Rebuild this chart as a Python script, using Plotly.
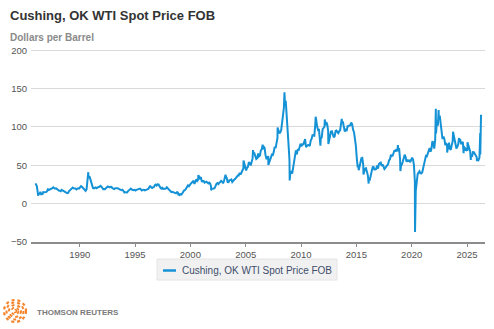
import pandas as pd
import plotly.graph_objects as go

# ---- data: WTI Cushing spot, monthly averages (mid-month), 1986-01 onward ----
wti_monthly = [
    # 1986
    22.9, 15.5, 12.6, 12.8, 15.4, 13.4, 11.6, 15.1, 14.9, 14.9, 15.2, 16.1,
    # 1987
    18.7, 17.8, 18.3, 18.7, 19.4, 20.1, 21.3, 20.3, 19.5, 19.9, 18.9, 17.3,
    # 1988
    17.1, 16.8, 16.2, 17.9, 17.4, 16.5, 15.5, 15.5, 14.5, 13.8, 14.1, 16.4,
    # 1989
    18.0, 17.9, 19.5, 21.1, 20.1, 20.1, 19.8, 18.6, 19.6, 20.1, 19.9, 21.1,
    # 1990
    22.9, 22.1, 20.4, 18.4, 18.2, 16.7, 18.5, 27.3, 33.5, 36.0, 32.3, 27.3,
    # 1991
    25.2, 20.5, 19.9, 20.8, 21.2, 20.2, 21.4, 21.7, 21.9, 23.2, 22.5, 19.5,
    # 1992
    18.8, 19.0, 18.9, 20.2, 21.0, 22.4, 21.8, 21.3, 21.9, 21.7, 20.3, 19.4,
    # 1993
    19.0, 20.1, 20.3, 20.3, 20.0, 19.1, 17.9, 18.0, 17.5, 18.2, 16.6, 14.5,
    # 1994
    15.0, 14.8, 14.7, 16.4, 17.9, 19.1, 19.7, 18.4, 17.5, 17.7, 18.1, 17.2,
    # 1995
    18.0, 18.6, 18.5, 19.9, 19.7, 18.5, 17.3, 18.0, 18.2, 17.4, 18.0, 19.0,
    # 1996
    18.9, 19.1, 21.3, 23.5, 21.2, 20.4, 21.3, 21.9, 24.0, 24.9, 23.7, 25.2,
    # 1997
    25.1, 22.2, 21.0, 19.7, 20.8, 19.3, 19.7, 20.0, 19.8, 21.3, 20.2, 18.3,
    # 1998
    16.7, 16.1, 15.1, 15.4, 14.9, 13.7, 14.2, 13.5, 15.0, 14.5, 13.0, 11.4,
    # 1999
    12.5, 12.0, 14.7, 17.3, 17.7, 17.9, 20.1, 21.3, 23.8, 22.7, 25.0, 26.1,
    # 2000
    27.3, 29.4, 29.8, 25.7, 28.8, 31.8, 29.7, 31.3, 33.9, 33.1, 34.4, 28.4,
    # 2001
    29.6, 29.6, 27.3, 27.5, 28.6, 27.6, 26.4, 27.4, 26.2, 22.2, 19.6, 19.4,
    # 2002
    19.7, 20.7, 24.5, 26.2, 27.0, 25.5, 27.0, 28.4, 29.7, 28.8, 26.4, 29.5,
    # 2003
    33.0, 35.8, 33.5, 28.2, 28.1, 30.7, 30.8, 31.6, 28.3, 30.3, 31.1, 32.1,
    # 2004
    34.3, 34.7, 36.7, 36.8, 40.3, 38.0, 40.8, 44.9, 45.9, 53.3, 48.5, 43.2,
    # 2005
    46.8, 48.2, 54.2, 53.0, 49.8, 56.4, 59.0, 65.0, 65.6, 62.3, 58.3, 59.4,
    # 2006
    65.5, 61.6, 62.7, 69.4, 70.8, 71.0, 74.4, 73.0, 63.8, 58.9, 59.1, 62.0,
    # 2007
    54.5, 59.3, 60.4, 64.0, 63.5, 67.5, 74.1, 72.4, 79.9, 85.8, 94.8, 91.7,
    # 2008
    93.0, 95.4, 105.5, 112.6, 125.4, 133.9, 133.4, 116.7, 104.1, 76.6, 57.3, 41.1,
    # 2009
    41.7, 39.1, 47.9, 49.7, 59.0, 69.6, 64.2, 71.1, 69.4, 75.7, 78.0, 74.5,
    # 2010
    78.3, 76.4, 81.2, 84.3, 73.7, 75.3, 76.3, 76.6, 75.2, 81.9, 84.3, 89.2,
    # 2011
    89.2, 88.6, 102.9, 109.5, 100.9, 96.3, 97.3, 86.3, 85.5, 86.3, 97.2, 98.6,
    # 2012
    100.3, 102.2, 106.2, 103.3, 94.7, 82.3, 87.9, 94.1, 94.5, 89.5, 86.5, 87.9,
    # 2013
    94.8, 95.3, 92.9, 92.0, 94.5, 95.8, 104.7, 106.6, 106.3, 100.5, 93.9, 97.6,
    # 2014
    94.6, 100.8, 100.8, 102.1, 102.2, 105.8, 103.6, 96.5, 93.2, 84.4, 75.8, 59.3,
    # 2015
    47.2, 50.6, 47.8, 54.5, 59.3, 59.8, 50.9, 42.9, 45.5, 46.2, 42.4, 37.2,
    # 2016
    31.7, 30.3, 37.6, 40.8, 46.7, 48.8, 44.7, 44.7, 45.2, 49.8, 45.7, 52.0,
    # 2017
    52.5, 53.5, 49.3, 51.1, 48.5, 45.2, 46.6, 48.0, 49.8, 51.6, 56.6, 57.9,
    # 2018
    63.7, 62.2, 62.7, 66.3, 70.0, 67.9, 71.0, 68.1, 70.2, 70.8, 57.0, 49.5,
    # 2019
    51.4, 55.0, 58.2, 63.9, 60.8, 54.7, 57.4, 54.8, 57.0, 54.0, 57.0, 59.9,
    # 2020
    57.5, 50.5, 29.2, 16.6, 28.6, 38.3, 40.7, 42.3, 39.6, 39.4, 40.9, 47.0,
    # 2021
    52.0, 59.0, 62.3, 61.7, 65.2, 71.4, 72.5, 67.7, 71.7, 81.5, 79.2, 71.7,
    # 2022
    83.2, 91.6, 108.5, 101.8, 109.6, 114.8, 101.6, 93.7, 84.3, 87.6, 84.4, 76.4,
    # 2023
    78.1, 76.8, 73.3, 79.5, 71.6, 70.3, 76.1, 81.4, 89.4, 85.6, 77.7, 71.9,
    # 2024
    74.2, 77.3, 80.6, 84.4, 78.6, 78.7, 80.5, 75.4, 69.4, 71.6, 69.7, 70.1,
    # 2025
    75.1, 71.2, 68.2, 63.5, 61.0, 67.3, 67.2, 64.9, 63.5, 60.9, 58.5, 57.0,
    # 2026
    60.0, 64.0,
]
monthly_start = "1986-01-15"

# daily extremes
extreme_dates = [
    "1986-01-02", "1986-03-31", "1986-07-15", "1990-10-11", "1998-12-10",
    "2000-09-20", "2001-11-15", "2003-03-07", "2004-10-22", "2005-08-30",
    "2006-07-14", "2007-01-18", "2007-11-20", "2008-07-03", "2008-12-22",
    "2011-04-29", "2011-10-03", "2012-02-24", "2012-06-21", "2013-09-06",
    "2015-03-17", "2015-08-24", "2016-02-11", "2018-10-03", "2018-12-24",
    "2020-04-20", "2022-03-08", "2022-06-08", "2023-03-17", "2023-09-27",
    "2024-04-12", "2024-09-10", "2025-01-15", "2025-05-05", "2025-11-25",
    "2026-03-12", "2026-04-08",
]
extreme_prices = [
    26.5, 10.4, 11.2, 41.0, 10.8,
    37.2, 17.5, 37.8, 56.4, 69.8,
    77.0, 50.5, 99.2, 145.3, 30.3,
    113.4, 75.7, 109.8, 77.7, 110.5,
    43.5, 38.2, 26.2, 76.4, 42.5,
    -37.0, 123.7, 122.1, 66.7, 93.7,
    85.7, 65.7, 80.0, 57.1, 55.5,
    92.0, 116.0,
]

series_name = "Cushing, OK WTI Spot Price FOB"
y_ticks = [-50, 0, 50, 100, 150, 200]

# ---- build series ----
m_dates = pd.date_range(monthly_start, periods=len(wti_monthly), freq="MS") + pd.Timedelta(days=14)
df = pd.concat([
    pd.DataFrame({"date": m_dates, "price": wti_monthly}),
    pd.DataFrame({"date": pd.to_datetime(extreme_dates), "price": extreme_prices}),
]).sort_values("date")

FONT = "Arial, 'Liberation Sans', sans-serif"
W, H = 494, 329
L, R, T, B = 31, 9, 48, 87
PW, PH = W - L - R, H - T - B


def px_x(px):
    return (px - L) / PW


def px_y(py):
    return (H - B - py) / PH


blue = "#1592d6"
fig = go.Figure()
fig.add_trace(go.Scatter(
    x=df["date"], y=df["price"], mode="lines", name=series_name,
    line=dict(color=blue, width=2), showlegend=False,
))

shapes = [
    # legend box
    dict(type="rect", xref="paper", yref="paper",
         x0=px_x(157), x1=px_x(337), y0=px_y(280), y1=px_y(259),
         fillcolor="#f1f1f1", line=dict(color="#e4e4e4", width=1), layer="below"),
    dict(type="line", xref="paper", yref="paper",
         x0=px_x(163), x1=px_x(176), y0=px_y(270.5), y1=px_y(270.5),
         line=dict(color=blue, width=2.5)),
]
# Thomson Reuters logo (dotted orange rings)
for r, w in [(11, 2.2), (8.5, 2.0), (6, 2.0), (3.5, 1.8), (1.5, 1.6)]:
    shapes.append(dict(
        type="circle", xref="paper", yref="paper",
        xsizemode="pixel", ysizemode="pixel",
        xanchor=px_x(15), yanchor=px_y(311),
        x0=-r, x1=r, y0=-r, y1=r,
        line=dict(color="#f4842a", width=w, dash="dot"),
    ))

annotations = [
    dict(text="<b>Cushing, OK WTI Spot Price FOB</b>", xref="paper", yref="paper",
         x=px_x(8), y=px_y(16), xanchor="left", yanchor="middle", showarrow=False,
         font=dict(family=FONT, size=13, color="#333333")),
    dict(text="<b>Dollars per Barrel</b>", xref="paper", yref="paper",
         x=px_x(8), y=px_y(37.5), xanchor="left", yanchor="middle", showarrow=False,
         font=dict(family=FONT, size=10, color="#8a8a8a")),
    dict(text=series_name, xref="paper", yref="paper",
         x=px_x(180), y=px_y(270), xanchor="left", yanchor="middle", showarrow=False,
         font=dict(family=FONT, size=10, color="#3e4d6b")),
    dict(text="<b>THOMSON REUTERS</b>", xref="paper", yref="paper",
         x=px_x(35), y=px_y(312), xanchor="left", yanchor="middle", showarrow=False,
         font=dict(family=FONT, size=8, color="#7a7a7a")),
]

fig.update_layout(
    width=W, height=H,
    margin=dict(l=L, r=R, t=T, b=B),
    paper_bgcolor="white", plot_bgcolor="white",
    font=dict(family=FONT, size=9.5, color="#555555"),
    shapes=shapes, annotations=annotations,
    showlegend=False,
    xaxis=dict(
        type="date", range=["1985-08-07", "2026-08-17"],
        tick0="1990-01-01", dtick="M60", tickformat="%Y",
        showgrid=False, showline=True, linecolor="#8c8c8c", linewidth=1.5,
        ticks="outside", ticklen=3, tickcolor="#8c8c8c", tickwidth=1,
        tickfont=dict(size=9.5, color="#555555"), zeroline=False,
    ),
    yaxis=dict(
        range=[-50, 203], tickvals=y_ticks, showgrid=True,
        gridcolor="#d9d9d9", gridwidth=1.3, zeroline=False, showline=False,
        ticks="", ticklabelstandoff=3, tickfont=dict(size=9.5, color="#555555"),
    ),
)

fig.write_html("out.html")
